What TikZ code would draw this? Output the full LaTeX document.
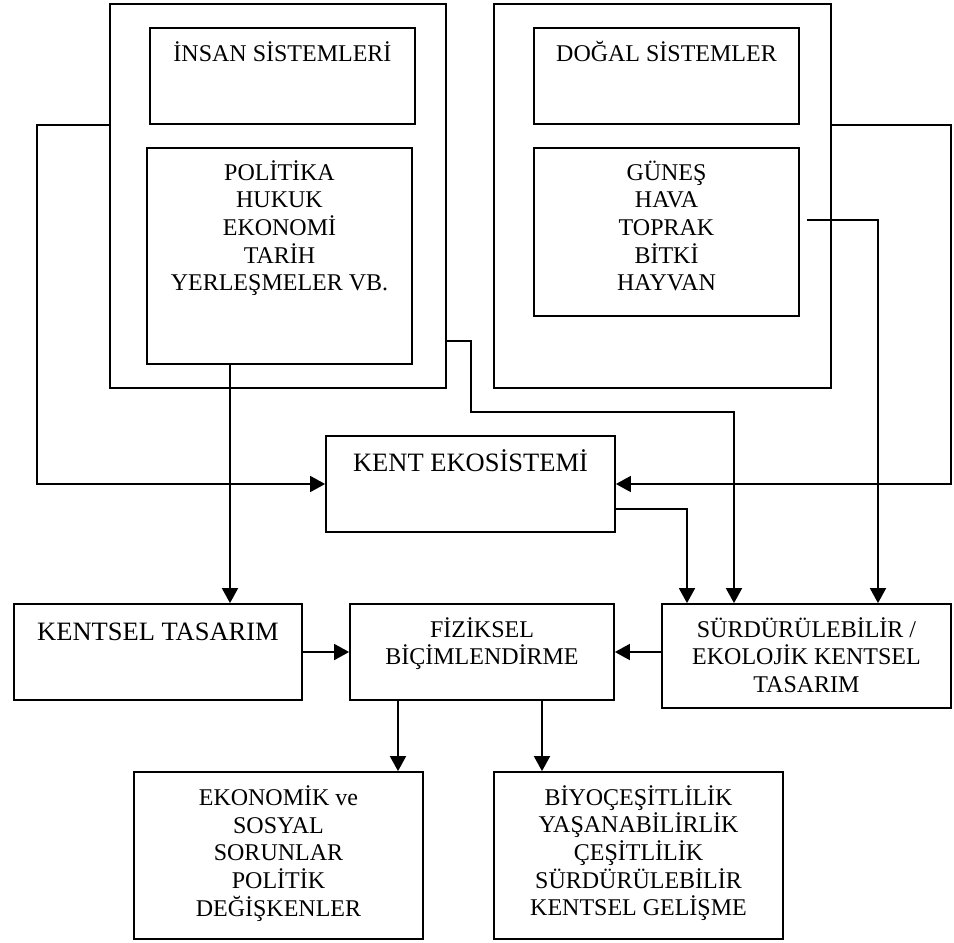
\documentclass[tikz,border=0pt]{standalone}
\usepackage{fontspec}
\setmainfont{Liberation Serif}
\usetikzlibrary{arrows.meta,calc}
\tikzset{
  box/.style={draw, line width=1.8pt, rectangle, inner sep=0pt},
  txt/.style={align=center, anchor=base, inner sep=0pt, font=\fontsize{24}{27.7}\selectfont},
  bigtxt/.style={align=center, anchor=base, inner sep=0pt, font=\fontsize{26.5}{30}\selectfont},
  arr/.style={line width=1.8pt, -{Triangle[length=15pt,width=16pt]}},
  ln/.style={line width=1.8pt}
}
\begin{document}
\begin{tikzpicture}[x=1pt,y=-1pt]
\useasboundingbox (0,0) rectangle (954,943);
% boxes
\node[box, minimum width=336pt, minimum height=384pt] (outerL) at (278,196) {};
\node[box, minimum width=265pt, minimum height=96pt] (insan) at (282.5,76) {};
\node[box, minimum width=265pt, minimum height=216pt] (pol) at (279.5,256) {};
\node[box, minimum width=337pt, minimum height=384pt] (outerR) at (662.5,196) {};
\node[box, minimum width=265pt, minimum height=96pt] (dogal) at (666.5,76) {};
\node[box, minimum width=265pt, minimum height=168pt] (gunes) at (666.5,232) {};
\node[box, minimum width=289pt, minimum height=96pt] (kent) at (470.5,484) {};
\node[box, minimum width=288pt, minimum height=96pt] (kentsel) at (158,652) {};
\node[box, minimum width=264pt, minimum height=96pt] (fiz) at (482,652) {};
\node[box, minimum width=289pt, minimum height=104pt] (surd) at (806.5,656) {};
\node[box, minimum width=289pt, minimum height=167pt] (ekon) at (278.5,855.5) {};
\node[box, minimum width=289pt, minimum height=167pt] (biyo) at (638.5,855.5) {};
% texts (anchor=base of a multi-line node is the baseline of its last line)
\node[txt] (t-insan) at (282.5,61) {İNSAN SİSTEMLERİ};
\node[txt] (t-pol) at (279.5,290.8) {POLİTİKA\\HUKUK\\EKONOMİ\\TARİH\\YERLEŞMELER VB.};
\node[txt] (t-dogal) at (666.5,61) {DOĞAL SİSTEMLER};
\node[txt] (t-gunes) at (666.5,290.8) {GÜNEŞ\\HAVA\\TOPRAK\\BİTKİ\\HAYVAN};
\node[bigtxt] (t-kent) at (470.5,471.5) {KENT EKOSİSTEMİ};
\node[bigtxt] (t-kentsel) at (158,640) {KENTSEL TASARIM};
\node[txt] (t-fiz) at (482,664.7) {FİZİKSEL\\BİÇİMLENDİRME};
\node[txt] (t-surd) at (806.5,692.4) {SÜRDÜRÜLEBİLİR /\\EKOLOJİK KENTSEL\\TASARIM};
\node[txt] (t-ekon) at (278.5,916.3) {EKONOMİK ve\\SOSYAL\\SORUNLAR\\POLİTİK\\DEĞİŞKENLER};
\node[txt] (t-biyo) at (638.5,915.8) {BİYOÇEŞİTLİLİK\\YAŞANABİLİRLİK\\ÇEŞİTLİLİK\\SÜRDÜRÜLEBİLİR\\KENTSEL GELİŞME};
% column helpers
\coordinate (c230) at (230,0);
\coordinate (c398) at (398,0);
\coordinate (c542) at (542,0);
\coordinate (c687) at (687,0);
\coordinate (c734) at (734,0);
\coordinate (c878) at (878,0);
% connectors
\draw[arr] (outerL.west |- insan.south) -- ++(-72,0) |- (kent.west);
\draw[arr] (outerR.east |- dogal.south) -- ++(119,0) |- (kent.east);
\draw[arr] (pol.south -| c230) -- (kentsel.north -| c230);
\draw[arr] ($(outerL.south east)+(0,-48)$) -- ++(24,0) |- ($(c734)+(0,412)$) -- (surd.north -| c734);
\draw[arr] ($(gunes.east)+(7,-12)$) -| (surd.north -| c878);
\draw[arr] ($(kent.south east)+(0,-24)$) -| (surd.north -| c687);
\draw[arr] (kentsel.east) -- (fiz.west);
\draw[arr] (surd.west |- fiz.east) -- (fiz.east);
\draw[arr] (fiz.south -| c398) -- (ekon.north -| c398);
\draw[arr] (fiz.south -| c542) -- (biyo.north -| c542);
\end{tikzpicture}
\end{document}
